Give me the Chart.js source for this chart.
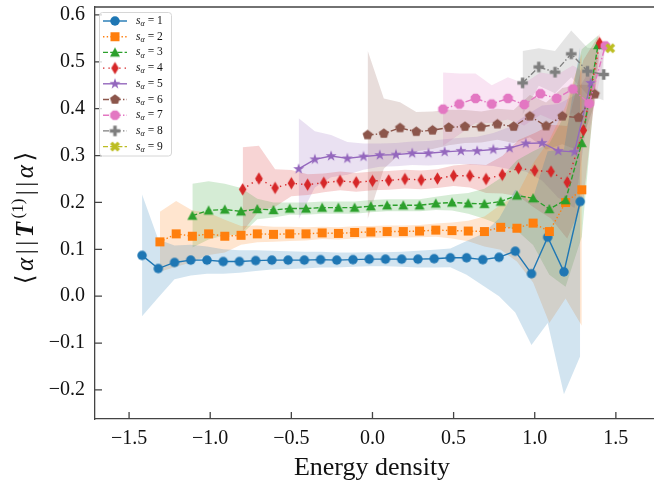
<!DOCTYPE html>
<html>
<head>
<meta charset="utf-8">
<script src="https://cdn.jsdelivr.net/npm/chart.js@4.4.0/dist/chart.umd.min.js"></script>
<style>
  html, body { margin: 0; padding: 0; background: #fff; }
  #wrap { width: 654px; height: 491px; }
</style>
</head>
<body>
<div id="wrap"><canvas id="chart" width="654" height="491"></canvas></div>
<script>
// energy density bins, mean <a||T(1)||a> and band half-width for each s_alpha
const energy1 = [-1.42, -1.32, -1.22, -1.12, -1.02, -0.92, -0.82, -0.72, -0.62, -0.52, -0.42, -0.32, -0.22, -0.12, -0.02, 0.08, 0.18, 0.28, 0.38, 0.48, 0.58, 0.68, 0.78, 0.88, 0.98, 1.08, 1.18, 1.28];
const value1 = [0.087, 0.059, 0.072, 0.077, 0.077, 0.074, 0.074, 0.076, 0.077, 0.077, 0.077, 0.078, 0.077, 0.078, 0.079, 0.079, 0.079, 0.079, 0.080, 0.082, 0.082, 0.078, 0.083, 0.096, 0.048, 0.126, 0.052, 0.202];
const spread1 = [0.13, 0.062, 0.036, 0.033, 0.029, 0.026, 0.024, 0.022, 0.02, 0.019, 0.018, 0.017, 0.016, 0.015, 0.015, 0.015, 0.016, 0.018, 0.019, 0.02, 0.036, 0.055, 0.083, 0.131, 0.152, 0.183, 0.261, 0.33];

const energy2 = [-1.31, -1.21, -1.11, -1.01, -0.91, -0.81, -0.71, -0.61, -0.51, -0.41, -0.31, -0.21, -0.11, -0.01, 0.09, 0.19, 0.29, 0.39, 0.49, 0.59, 0.69, 0.79, 0.89, 0.99, 1.09, 1.19, 1.29];
const value2 = [0.116, 0.133, 0.128, 0.133, 0.128, 0.130, 0.133, 0.132, 0.133, 0.133, 0.135, 0.134, 0.136, 0.137, 0.138, 0.138, 0.139, 0.141, 0.140, 0.139, 0.138, 0.147, 0.145, 0.156, 0.138, 0.200, 0.227];
const spread2 = [0.064, 0.07, 0.055, 0.045, 0.035, 0.02, 0.018, 0.016, 0.015, 0.014, 0.013, 0.013, 0.013, 0.013, 0.013, 0.013, 0.013, 0.014, 0.017, 0.022, 0.032, 0.048, 0.071, 0.127, 0.195, 0.205, 0.29];

const energy3 = [-1.11, -1.01, -0.91, -0.81, -0.71, -0.61, -0.51, -0.41, -0.31, -0.21, -0.11, -0.01, 0.09, 0.19, 0.29, 0.39, 0.49, 0.59, 0.69, 0.79, 0.89, 0.99, 1.09, 1.19, 1.29, 1.39];
const value3 = [0.172, 0.183, 0.185, 0.181, 0.186, 0.184, 0.187, 0.187, 0.189, 0.189, 0.189, 0.192, 0.194, 0.194, 0.194, 0.198, 0.200, 0.198, 0.197, 0.202, 0.215, 0.209, 0.186, 0.205, 0.327, 0.536];
const spread3 = [0.068, 0.062, 0.055, 0.05, 0.022, 0.016, 0.013, 0.013, 0.013, 0.013, 0.013, 0.013, 0.013, 0.013, 0.013, 0.014, 0.017, 0.022, 0.032, 0.05, 0.075, 0.1, 0.14, 0.185, 0.2, 0.02];

const energy4 = [-0.80, -0.70, -0.60, -0.50, -0.40, -0.30, -0.20, -0.10, 0.00, 0.10, 0.20, 0.30, 0.40, 0.50, 0.60, 0.70, 0.80, 0.90, 1.00, 1.10, 1.20, 1.30, 1.40];
const value4 = [0.228, 0.251, 0.231, 0.241, 0.238, 0.242, 0.246, 0.243, 0.246, 0.247, 0.250, 0.248, 0.251, 0.257, 0.257, 0.250, 0.259, 0.273, 0.268, 0.266, 0.243, 0.354, 0.540];
const spread4 = [0.09, 0.07, 0.04, 0.028, 0.022, 0.02, 0.02, 0.02, 0.02, 0.02, 0.02, 0.02, 0.02, 0.022, 0.025, 0.03, 0.04, 0.06, 0.08, 0.1, 0.12, 0.15, 0.02];

const energy5 = [-0.455, -0.355, -0.255, -0.155, -0.055, 0.045, 0.145, 0.245, 0.345, 0.445, 0.545, 0.645, 0.745, 0.845, 0.945, 1.045, 1.145, 1.245, 1.345];
const value5 = [0.2715, 0.292, 0.299, 0.294, 0.298, 0.301, 0.302, 0.305, 0.305, 0.308, 0.310, 0.310, 0.313, 0.316, 0.326, 0.327, 0.310, 0.308, 0.455];
const spread5 = [0.108, 0.06, 0.045, 0.035, 0.028, 0.025, 0.025, 0.025, 0.026, 0.027, 0.028, 0.03, 0.035, 0.045, 0.06, 0.08, 0.1, 0.12, 0.03];

const energy6 = [-0.03, 0.07, 0.17, 0.27, 0.37, 0.47, 0.57, 0.67, 0.77, 0.87, 0.97, 1.07, 1.17, 1.27, 1.37];
const value6 = [0.344, 0.347, 0.359, 0.351, 0.354, 0.360, 0.362, 0.361, 0.367, 0.362, 0.384, 0.363, 0.384, 0.381, 0.431];
const spread6 = [0.18, 0.075, 0.055, 0.042, 0.04, 0.038, 0.035, 0.033, 0.033, 0.035, 0.045, 0.05, 0.06, 0.07, 0.02];

const energy7 = [0.435, 0.535, 0.635, 0.735, 0.835, 0.935, 1.035, 1.135, 1.235, 1.335, 1.435];
const value7 = [0.399, 0.410, 0.422, 0.410, 0.422, 0.409, 0.432, 0.422, 0.442, 0.411, 0.534];
const spread7 = [0.078, 0.065, 0.053, 0.04, 0.045, 0.045, 0.045, 0.05, 0.05, 0.06, 0.01];

const energy8 = [0.925, 1.025, 1.125, 1.225, 1.325, 1.425];
const value8 = [0.455, 0.489, 0.478, 0.517, 0.480, 0.473];
const spread8 = [0.068, 0.04, 0.045, 0.05, 0.05, 0.055];

const energy9 = [1.465];
const value9 = [0.529];
const spread9 = [0.005];

const seriesLabels = ['1', '2', '3', '4', '5', '6', '7', '8', '9'];
const xTicks = [-1.5, -1.0, -0.5, 0.0, 0.5, 1.0, 1.5];
const yTicks = [-0.2, -0.1, 0.0, 0.1, 0.2, 0.3, 0.4, 0.5, 0.6];

const colors = ['#1f77b4', '#ff7f0e', '#2ca02c', '#d62728', '#9467bd', '#8c564b', '#e377c2', '#7f7f7f', '#bcbd22'];
const shapes = ['circle', 'square', 'triangle', 'thinDiamond', 'star', 'pentagon', 'octagon', 'plus', 'cross'];
const markerSizes = [9.5, 9, 10, 12.5, 11.5, 10.5, 10.5, 10.5, 10.5];
const dashes = [[], [1.4, 2.3], [5, 2.2], [1.4, 4], [], [6, 2.2, 1.4, 2.2], [6, 2.2, 1.4, 2.2], [6, 2.2, 1.4, 2.2], [5, 2.2]];

const SERIF = "'Liberation Serif', 'DejaVu Serif', serif";

function makeMarker(shape, color, size) {
    const d = Math.ceil(size) + 2;
    const c = document.createElement('canvas');
    c.width = d;
    c.height = d;
    const g = c.getContext('2d');
    g.translate(d / 2, d / 2);
    g.fillStyle = color;
    const r = size / 2;
    const poly = pts => {
        g.beginPath();
        pts.forEach(([x, y], i) => (i ? g.lineTo(x, y) : g.moveTo(x, y)));
        g.closePath();
    };
    const ring = (n, rad, rot) => {
        const pts = [];
        for (let i = 0; i < n; i++) {
            const a = rot + i * 2 * Math.PI / n;
            pts.push([rad * Math.cos(a), rad * Math.sin(a)]);
        }
        return pts;
    };
    if (shape === 'circle') {
        g.beginPath();
        g.arc(0, 0, r, 0, Math.PI * 2);
    } else if (shape === 'square') {
        poly([[-r, -r], [r, -r], [r, r], [-r, r]]);
    } else if (shape === 'triangle') {
        poly([[0, -r], [r, r * 0.85], [-r, r * 0.85]]);
    } else if (shape === 'thinDiamond') {
        poly([[0, -r], [r * 0.6, 0], [0, r], [-r * 0.6, 0]]);
    } else if (shape === 'star') {
        const pts = [];
        for (let i = 0; i < 10; i++) {
            const rad = i % 2 ? r * 0.4 : r;
            const a = -Math.PI / 2 + i * Math.PI / 5;
            pts.push([rad * Math.cos(a), rad * Math.sin(a)]);
        }
        poly(pts);
    } else if (shape === 'pentagon') {
        poly(ring(5, r, -Math.PI / 2));
    } else if (shape === 'octagon') {
        poly(ring(8, r, Math.PI / 8));
    } else if (shape === 'plus' || shape === 'cross') {
        const t = r / 3;
        let pts = [[-t, -r], [t, -r], [t, -t], [r, -t], [r, t], [t, t], [t, r], [-t, r], [-t, t], [-r, t], [-r, -t], [-t, -t]];
        if (shape === 'cross') {
            const k = Math.SQRT1_2;
            pts = pts.map(([x, y]) => [(x - y) * k, (x + y) * k]);
        }
        poly(pts);
    }
    g.fill();
    return c;
}

function rgba(hex, a) {
    const n = parseInt(hex.slice(1), 16);
    return `rgba(${(n >> 16) & 255}, ${(n >> 8) & 255}, ${n & 255}, ${a})`;
}

const series = [
    { energy: energy1, value: value1, spread: spread1 },
    { energy: energy2, value: value2, spread: spread2 },
    { energy: energy3, value: value3, spread: spread3 },
    { energy: energy4, value: value4, spread: spread4 },
    { energy: energy5, value: value5, spread: spread5 },
    { energy: energy6, value: value6, spread: spread6 },
    { energy: energy7, value: value7, spread: spread7 },
    { energy: energy8, value: value8, spread: spread8 },
    { energy: energy9, value: value9, spread: spread9 }
].map((s, k) => ({
    ...s,
    label: seriesLabels[k],
    color: colors[k],
    dash: dashes[k],
    marker: makeMarker(shapes[k], colors[k], markerSizes[k])
}));

// bands first (lower, upper filled down to lower), then the lines
const datasets = [];
series.forEach(s => {
    const lowIdx = datasets.length;
    datasets.push({
        data: s.energy.map((x, i) => ({ x, y: s.value[i] - s.spread[i] })),
        borderColor: 'transparent', borderWidth: 0, pointRadius: 0, fill: false, order: 100
    });
    datasets.push({
        data: s.energy.map((x, i) => ({ x, y: s.value[i] + s.spread[i] })),
        borderColor: 'transparent', borderWidth: 0, pointRadius: 0,
        backgroundColor: rgba(s.color, 0.2), fill: lowIdx, order: 100
    });
});
series.forEach((s, k) => {
    datasets.push({
        data: s.energy.map((x, i) => ({ x, y: s.value[i] })),
        borderColor: s.color,
        borderWidth: 1.4,
        borderDash: s.dash,
        pointStyle: s.marker,
        pointRadius: 5,
        fill: false,
        tension: 0,
        order: 9 - k
    });
});

const fmt = v => (Math.abs(v) < 1e-9 ? '0.0' : v.toFixed(1).replace('-', '\u2212'));

const framePlugin = {
    id: 'frame',
    afterDraw(chart) {
        const { ctx, chartArea: a, scales } = chart;
        ctx.save();
        ctx.strokeStyle = '#444';
        ctx.lineWidth = 1.3;
        ctx.beginPath();
        ctx.moveTo(a.left, a.top);
        ctx.lineTo(a.right, a.top);
        xTicks.forEach(v => {
            const px = scales.x.getPixelForValue(v);
            ctx.moveTo(px, a.bottom);
            ctx.lineTo(px, a.bottom - 7);
        });
        yTicks.forEach(v => {
            const py = scales.y.getPixelForValue(v);
            ctx.moveTo(a.left, py);
            ctx.lineTo(a.left + 7, py);
        });
        ctx.stroke();

        // axis titles
        ctx.fillStyle = '#111';
        ctx.font = `26px ${SERIF}`;
        ctx.textAlign = 'center';
        ctx.textBaseline = 'alphabetic';
        ctx.fillText('Energy density', 372, 475);

        const pieces = [
            { t: '\u27E8', f: `25px ${SERIF}` },
            { t: '\u03B1', f: `italic 25px ${SERIF}` },
            { t: '|', f: `25px ${SERIF}` },
            { t: '|', f: `25px ${SERIF}` },
            { t: 'T', f: `italic bold 25px ${SERIF}` },
            { t: '(1)', f: `17px ${SERIF}`, dy: -10 },
            { t: '|', f: `25px ${SERIF}` },
            { t: '|', f: `25px ${SERIF}` },
            { t: '\u03B1', f: `italic 25px ${SERIF}` },
            { t: '\u27E9', f: `25px ${SERIF}` }
        ];
        const gap = 3.5;
        let total = 0;
        pieces.forEach(p => { ctx.font = p.f; p.w = ctx.measureText(p.t).width; total += p.w + gap; });
        total -= gap;
        ctx.translate(33, 218);
        ctx.rotate(-Math.PI / 2);
        ctx.textAlign = 'left';
        let cx = -total / 2;
        pieces.forEach(p => {
            ctx.font = p.f;
            ctx.fillText(p.t, cx, p.dy || 0);
            cx += p.w + gap;
        });
        ctx.restore();
    }
};

const legendPlugin = {
    id: 'legendBox',
    afterDraw(chart) {
        const ctx = chart.ctx;
        ctx.save();
        ctx.beginPath();
        ctx.roundRect(99.5, 12.5, 72, 143.5, 3);
        ctx.fillStyle = 'rgba(255, 255, 255, 0.8)';
        ctx.fill();
        ctx.strokeStyle = '#d6d6d6';
        ctx.lineWidth = 1;
        ctx.stroke();
        series.forEach((s, i) => {
            const y = 21 + i * 15.7;
            ctx.strokeStyle = s.color;
            ctx.lineWidth = 1.4;
            ctx.setLineDash(s.dash);
            ctx.beginPath();
            ctx.moveTo(103, y);
            ctx.lineTo(127, y);
            ctx.stroke();
            ctx.setLineDash([]);
            ctx.drawImage(s.marker, 115 - s.marker.width / 2, y - s.marker.height / 2);

            ctx.fillStyle = '#111';
            ctx.textBaseline = 'middle';
            ctx.textAlign = 'left';
            let tx = 136;
            ctx.font = `italic 11.5px ${SERIF}`;
            ctx.fillText('s', tx, y);
            tx += ctx.measureText('s').width;
            ctx.font = `italic 8px ${SERIF}`;
            ctx.fillText('\u03B1', tx, y + 3);
            tx += ctx.measureText('\u03B1').width + 3;
            ctx.font = `11.5px ${SERIF}`;
            ctx.fillText('= ' + s.label, tx, y);
        });
        ctx.restore();
    }
};

new Chart(document.getElementById('chart'), {
    type: 'line',
    data: { datasets },
    options: {
        responsive: false,
        animation: false,
        layout: { autoPadding: false, padding: { top: 7, right: 0, left: 0, bottom: 0 } },
        plugins: {
            legend: { display: false },
            tooltip: { enabled: false },
            filler: { propagate: false, drawTime: 'beforeDatasetsDraw' }
        },
        scales: {
            x: {
                type: 'linear',
                min: -1.71,
                max: 1.735,
                afterBuildTicks: s => { s.ticks = xTicks.map(v => ({ value: v })); },
                afterFit: s => { s.height = 72; s.paddingLeft = 0; s.paddingRight = 0; },
                ticks: {
                    callback: fmt, autoSkip: false, maxRotation: 0, padding: 8,
                    color: '#111', font: { family: SERIF, size: 20 }
                },
                grid: { display: false, drawTicks: false },
                border: { display: true, color: '#444', width: 1.3 }
            },
            y: {
                type: 'linear',
                min: -0.262,
                max: 0.617,
                afterBuildTicks: s => { s.ticks = yTicks.map(v => ({ value: v })); },
                afterFit: s => { s.width = 95; s.paddingTop = 0; s.paddingBottom = 0; },
                ticks: {
                    callback: fmt, padding: 10,
                    color: '#111', font: { family: SERIF, size: 20 }
                },
                grid: { display: false, drawTicks: false },
                border: { display: true, color: '#444', width: 1.3 }
            }
        }
    },
    plugins: [framePlugin, legendPlugin]
});
</script>
</body>
</html>
